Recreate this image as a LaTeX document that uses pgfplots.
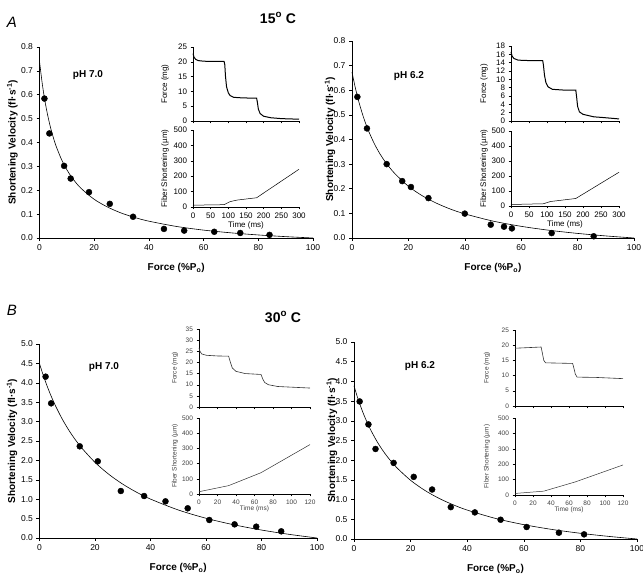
\documentclass[border=0pt]{standalone}
\usepackage{fontspec}
\setmainfont{Liberation Sans}
\usepackage{pgfplots}
\pgfplotsset{compat=1.18}
\newcommand\mainlab{\bfseries\fontsize{10}{12}\selectfont}
\newcommand\insAlab{\fontsize{8}{9}\selectfont}
\newcommand\insBlab{\fontsize{6.5}{7}\selectfont\color{black!75}}
\pgfplotsset{
 mainax/.style={scale only axis, axis lines=left, axis line style={-,line width=0.6pt},
  tick align=outside, major tick length=3pt, tick style={black,line width=0.5pt},
  xmin=0, xmax=100, xtick={0,20,40,60,80,100}, anchor=south west, clip=false,
  ticklabel style={font=\fontsize{8.5}{10}\selectfont},
  /pgf/number format/assume math mode=true,
  yticklabel style={/pgf/number format/.cd, fixed, fixed zerofill, precision=1},
  xlabel={Force (\%P\textsubscript{o})},
  ylabel={Shortening Velocity (fl·s\textsuperscript{-1})},
  every axis x label/.style={at={(axis description cs:0.5,0)}, anchor=center, yshift=-30pt, font=\mainlab},
 },
 inset/.style={scale only axis, axis lines=left, axis line style={-,line width=0.5pt},
  tick align=outside, major tick length=2.5pt, tick style={black,line width=0.4pt},
  xmin=0, anchor=south west, clip=false,
  /pgf/number format/assume math mode=true,
 },
 insetA/.style={inset, ticklabel style={font=\insAlab},
  every axis x label/.style={at={(axis description cs:0.5,0)}, anchor=center, yshift=-18pt, font=\insAlab}},
 insetB/.style={inset, ticklabel style={font=\insBlab},
  every axis x label/.style={at={(axis description cs:0.5,0)}, anchor=center, yshift=-15pt, font=\insBlab}},
 fit/.style={black, line width=0.6pt, smooth, no marks},
 pts/.style={only marks, mark=*, mark size=3pt, black},
}
\begin{document}
\begin{tikzpicture}
\useasboundingbox (0,0) rectangle (643pt,578pt);
% ================= A left =================
\begin{axis}[mainax, at={(39.5pt,340pt)}, width=273.5pt, height=191pt,
  ymin=0, ymax=0.8, ytick={0,0.1,0.2,0.3,0.4,0.5,0.6,0.7,0.8},
  every axis y label/.style={at={(axis description cs:-0.099,0.5)}, rotate=90, anchor=center, font=\mainlab}]
\addplot[fit] coordinates {(0,0.740)(1,0.647)(2,0.573)(3,0.514)(4,0.464)(5,0.423)(6,0.387)(8,0.330)(10,0.286)(12,0.251)(15,0.210)(20,0.162)(25,0.129)(30,0.104)(35,0.0853)(40,0.0704)(50,0.0485)(60,0.0330)(70,0.0216)(80,0.0127)(90,0.0057)(100,0)};
\addplot[pts] coordinates {(1.8,0.584)(3.6,0.438)(9.0,0.302)(11.4,0.249)(18.1,0.192)(25.7,0.143)(34.2,0.089)(45.5,0.038)(52.9,0.031)(63.9,0.026)(73.4,0.021)(84.1,0.013)};
\end{axis}
\begin{axis}[insetA, at={(193pt,457pt)}, width=106pt, height=74pt,
  xmax=300, xtick={0,50,100,150,200,250,300}, xticklabels={},
  ymin=0, ymax=25, ytick={0,5,10,15,20,25}, ylabel={Force (mg)},
  every axis y label/.style={at={(axis description cs:-0.264,0.5)}, rotate=90, anchor=center, font=\insAlab}]
\addplot[black, line width=1pt] coordinates {(0,22.8)(3,21.5)(8,20.8)(15,20.4)(30,20.2)(60,20.1)(88,20.1)(90,19)(92,15)(95,11.5)(100,9.5)(105,8.6)(115,8.0)(140,7.8)(180,7.7)(182,6.5)(185,4)(190,2.5)(200,1.6)(220,1.1)(250,0.8)(300,0.6)};
\end{axis}
\begin{axis}[insetA, at={(193pt,371pt)}, width=106pt, height=77pt,
  xmax=300, xtick={0,50,100,150,200,250,300}, xlabel={Time (ms)},
  ymin=0, ymax=500, ytick={0,100,200,300,400,500}, ylabel={Fiber Shortening (µm)},
  every axis y label/.style={at={(axis description cs:-0.264,0.5)}, rotate=90, anchor=center, font=\insAlab}]
\addplot[black, line width=0.5pt] coordinates {(0,10)(5,12)(88,15)(105,35)(125,45)(180,60)(300,245)};
\end{axis}
% ================= A right =================
\begin{axis}[mainax, at={(352pt,340pt)}, width=282pt, height=197pt,
  ymin=0, ymax=0.8, ytick={0,0.1,0.2,0.3,0.4,0.5,0.6,0.7,0.8},
  every axis y label/.style={at={(axis description cs:-0.078,0.5)}, rotate=90, anchor=center, font=\mainlab}]
\addplot[fit] coordinates {(0,0.674)(1,0.619)(2,0.571)(3,0.530)(4,0.493)(5,0.460)(6,0.431)(8,0.381)(10,0.340)(12,0.306)(15,0.264)(20,0.210)(25,0.171)(30,0.141)(35,0.117)(40,0.098)(50,0.0686)(60,0.0474)(70,0.0312)(80,0.0186)(90,0.0084)(100,0)};
\addplot[pts] coordinates {(1.9,0.573)(5.3,0.445)(12.3,0.300)(17.8,0.231)(20.9,0.207)(27.1,0.162)(40.0,0.099)(49.2,0.054)(53.9,0.046)(56.7,0.039)(70.8,0.020)(85.7,0.007)};
\end{axis}
\begin{axis}[insetA, at={(511pt,457pt)}, width=108pt, height=75pt,
  xmax=300, xtick={0,50,100,150,200,250,300}, xticklabels={},
  ymin=0, ymax=18, ytick={0,2,4,6,8,10,12,14,16,18}, ylabel={Force (mg)},
  every axis y label/.style={at={(axis description cs:-0.25,0.5)}, rotate=90, anchor=center, font=\insAlab}]
\addplot[black, line width=1pt] coordinates {(0,16.6)(3,15.6)(8,15)(20,14.6)(50,14.5)(88,14.5)(90,13.5)(93,11)(97,9.2)(103,8.2)(115,7.6)(150,7.4)(180,7.4)(182,6)(185,3.5)(190,2.2)(200,1.6)(230,1.0)(260,0.8)(300,0.5)};
\end{axis}
\begin{axis}[insetA, at={(511pt,372pt)}, width=108pt, height=75pt,
  xmax=300, xtick={0,50,100,150,200,250,300}, xlabel={Time (ms)},
  ymin=0, ymax=500, ytick={0,100,200,300,400,500}, ylabel={Fiber Shortening (µm)},
  every axis y label/.style={at={(axis description cs:-0.25,0.5)}, rotate=90, anchor=center, font=\insAlab}]
\addplot[black, line width=0.5pt] coordinates {(0,10)(90,15)(110,30)(180,50)(300,225)};
\end{axis}
% ================= B left =================
\begin{axis}[mainax, at={(39.5pt,40pt)}, width=277.5pt, height=194pt,
  ymin=0, ymax=5, ytick={0,0.5,1,1.5,2,2.5,3,3.5,4,4.5,5},
  every axis y label/.style={at={(axis description cs:-0.099,0.5)}, rotate=90, anchor=center, font=\mainlab}]
\addplot[fit] coordinates {(0,4.494)(1,4.269)(2,4.061)(3,3.869)(4,3.691)(5,3.525)(6,3.371)(8,3.091)(10,2.844)(12,2.625)(15,2.339)(20,1.950)(25,1.640)(30,1.388)(35,1.179)(40,1.003)(50,0.7225)(60,0.509)(70,0.341)(80,0.205)(90,0.0937)(100,0)};
\addplot[pts] coordinates {(2.2,4.158)(4.2,3.471)(14.5,2.363)(21.0,1.976)(29.3,1.211)(37.7,1.082)(45.4,0.945)(53.4,0.765)(61.2,0.464)(70.3,0.352)(78.1,0.292)(87.1,0.172)};
\end{axis}
\begin{axis}[insetB, at={(199pt,171pt)}, width=111pt, height=78pt,
  xmax=120, xtick={0,20,40,60,80,100,120}, xticklabels={},
  ymin=0, ymax=35, ytick={0,5,10,15,20,25,30,35}, ylabel={Force (mg)},
  every axis y label/.style={at={(axis description cs:-0.216,0.5)}, rotate=90, anchor=center, font=\insBlab}]
\addplot[black!80, line width=0.6pt] coordinates {(0,26.5)(1,25)(3,23.8)(8,23.2)(20,22.9)(32,22.8)(34,20)(36,17.5)(40,16)(50,15)(67,14.6)(69,12.5)(71,11)(75,10)(85,9.2)(100,8.9)(120,8.5)};
\end{axis}
\begin{axis}[insetB, at={(199pt,84pt)}, width=111pt, height=76pt,
  xmax=120, xtick={0,20,40,60,80,100,120}, xlabel={Time (ms)},
  ymin=0, ymax=500, ytick={0,100,200,300,400,500}, ylabel={Fiber Shortening (µm)},
  every axis y label/.style={at={(axis description cs:-0.216,0.5)}, rotate=90, anchor=center, font=\insBlab}]
\addplot[black!80, line width=0.5pt] coordinates {(0,15)(32,55)(67,140)(120,325)};
\end{axis}
% ================= B right =================
\begin{axis}[mainax, at={(354pt,39pt)}, width=283pt, height=197pt,
  ymin=0, ymax=5, ytick={0,0.5,1,1.5,2,2.5,3,3.5,4,4.5,5},
  every axis y label/.style={at={(axis description cs:-0.078,0.5)}, rotate=90, anchor=center, font=\mainlab}]
\addplot[fit] coordinates {(0,3.887)(1,3.649)(2,3.435)(3,3.241)(4,3.064)(5,2.902)(6,2.754)(8,2.491)(10,2.265)(12,2.069)(15,1.819)(20,1.489)(25,1.235)(30,1.033)(35,0.870)(40,0.734)(50,0.522)(60,0.364)(70,0.242)(80,0.145)(90,0.066)(100,0)};
\addplot[pts] coordinates {(2.0,3.491)(5.1,2.909)(7.6,2.285)(14.0,1.931)(21.1,1.577)(27.6,1.256)(34.2,0.809)(42.7,0.675)(51.8,0.489)(61.0,0.304)(72.4,0.160)(81.3,0.118)};
\end{axis}
\begin{axis}[insetB, at={(515pt,172pt)}, width=108pt, height=76pt,
  xmax=120, xtick={0,20,40,60,80,100,120}, xticklabels={},
  ymin=0, ymax=25, ytick={0,5,10,15,20,25}, ylabel={Force (mg)},
  every axis y label/.style={at={(axis description cs:-0.26,0.5)}, rotate=90, anchor=center, font=\insBlab}]
\addplot[black!80, line width=0.6pt] coordinates {(0,19)(29,19.4)(30,18)(32,15)(34,14.2)(64,14)(65,13)(67,10.5)(69,9.5)(90,9.4)(120,9.0)};
\end{axis}
\begin{axis}[insetB, at={(515pt,83pt)}, width=108pt, height=77pt,
  xmax=120, xtick={0,20,40,60,80,100,120}, xlabel={Time (ms)},
  ymin=0, ymax=500, ytick={0,100,200,300,400,500}, ylabel={Fiber Shortening (µm)},
  every axis y label/.style={at={(axis description cs:-0.26,0.5)}, rotate=90, anchor=center, font=\insBlab}]
\addplot[black!80, line width=0.5pt] coordinates {(0,10)(32,25)(67,85)(120,195)};
\end{axis}
% ================= text =================
\node[font=\itshape\fontsize{15}{17}\selectfont] at (12pt,556pt) {A};
\node[font=\bfseries\fontsize{14}{16}\selectfont] at (278pt,560pt) {15\textsuperscript{o} C};
\node[font=\itshape\fontsize{15}{17}\selectfont] at (12pt,268pt) {B};
\node[font=\bfseries\fontsize{14}{16}\selectfont] at (283pt,261pt) {30\textsuperscript{o} C};
\node[font=\bfseries\fontsize{10}{12}\selectfont] at (88pt,503pt) {pH 7.0};
\node[font=\bfseries\fontsize{10}{12}\selectfont] at (409pt,502pt) {pH 6.2};
\node[font=\bfseries\fontsize{10}{12}\selectfont] at (104pt,211pt) {pH 7.0};
\node[font=\bfseries\fontsize{10}{12}\selectfont] at (420pt,212pt) {pH 6.2};
\end{tikzpicture}
\end{document}
